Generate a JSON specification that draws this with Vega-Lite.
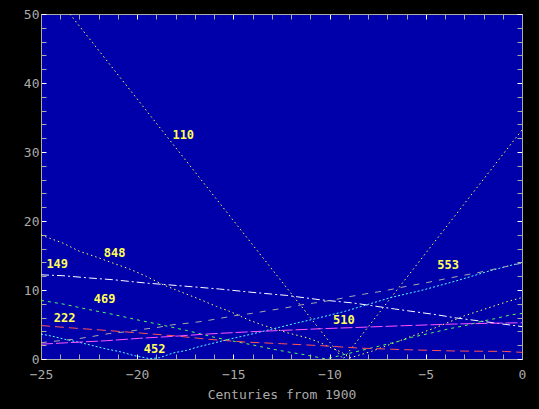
{
  "$schema": "https://vega.github.io/schema/vega-lite/v6.json",
  "width": 481,
  "height": 345,
  "autosize": {"type": "none"},
  "padding": {"left": 41, "top": 14, "right": 17, "bottom": 50},
  "background": "#000000",
  "config": {
    "view": {"fill": "#0000AA", "stroke": "#AAAAAA", "strokeWidth": 1},
    "axis": {"grid": false, "domainColor": "#AAAAAA", "labelColor": "#AAAAAA", "titleColor": "#AAAAAA", "labelFont": "DejaVu Sans Mono", "titleFont": "DejaVu Sans Mono", "labelFontSize": 13, "titleFontSize": 13, "titleFontWeight": "normal", "tickSize": -5, "labelFlush": false, "labelOverlap": false}
  },
  "datasets": {
    "lines": [
      {"s": "110", "x": -23.5, "y": 50}, {"s": "110", "x": -9.3, "y": 0}, {"s": "110", "x": 0, "y": 33.2},
      {"s": "848", "x": -25, "y": 18.0}, {"s": "848", "x": -24.55, "y": 17.5}, {"s": "848", "x": -23.86, "y": 16.8}, {"s": "848", "x": -22.99, "y": 15.6}, {"s": "848", "x": -22.12, "y": 14.78}, {"s": "848", "x": -21.26, "y": 13.9}, {"s": "848", "x": -20.4, "y": 13.04}, {"s": "848", "x": -19.52, "y": 11.97}, {"s": "848", "x": -18.66, "y": 10.77}, {"s": "848", "x": -17.8, "y": 9.8}, {"s": "848", "x": -16.92, "y": 8.84}, {"s": "848", "x": -15.88, "y": 7.62}, {"s": "848", "x": -15.19, "y": 6.9}, {"s": "848", "x": -14.24, "y": 5.7}, {"s": "848", "x": -13.54, "y": 4.97}, {"s": "848", "x": -12.16, "y": 3.77}, {"s": "848", "x": -11.12, "y": 3.04}, {"s": "848", "x": -10.43, "y": 2.3}, {"s": "848", "x": -9.9, "y": 1.6}, {"s": "848", "x": -9.39, "y": 1.0}, {"s": "848", "x": -8.95, "y": 0.15}, {"s": "848", "x": -7.83, "y": 1.1}, {"s": "848", "x": -5.75, "y": 3.28}, {"s": "848", "x": -4.54, "y": 4.49}, {"s": "848", "x": -2.98, "y": 6.28}, {"s": "848", "x": -1.77, "y": 7.39}, {"s": "848", "x": -0.73, "y": 8.35}, {"s": "848", "x": 0, "y": 8.9},
      {"s": "149", "x": -25, "y": 12.2}, {"s": "149", "x": -23.86, "y": 12.07}, {"s": "149", "x": -22.47, "y": 11.74}, {"s": "149", "x": -21.26, "y": 11.49}, {"s": "149", "x": -19.52, "y": 11.0}, {"s": "149", "x": -17.8, "y": 10.62}, {"s": "149", "x": -15.71, "y": 10.14}, {"s": "149", "x": -13.98, "y": 9.65}, {"s": "149", "x": -12.25, "y": 9.22}, {"s": "149", "x": -10.51, "y": 8.59}, {"s": "149", "x": -8.78, "y": 8.12}, {"s": "149", "x": -6.62, "y": 7.25}, {"s": "149", "x": -4.45, "y": 6.42}, {"s": "149", "x": -3.4, "y": 5.94}, {"s": "149", "x": -2.03, "y": 5.45}, {"s": "149", "x": 0, "y": 4.7},
      {"s": "469", "x": -25, "y": 8.5}, {"s": "469", "x": -23.86, "y": 7.97}, {"s": "469", "x": -22.47, "y": 7.14}, {"s": "469", "x": -21.43, "y": 6.57}, {"s": "469", "x": -19.87, "y": 5.6}, {"s": "469", "x": -19.0, "y": 5.1}, {"s": "469", "x": -17.44, "y": 4.14}, {"s": "469", "x": -15.97, "y": 3.13}, {"s": "469", "x": -14.06, "y": 2.07}, {"s": "469", "x": -13.0, "y": 1.45}, {"s": "469", "x": -12.33, "y": 1.1}, {"s": "469", "x": -11.3, "y": 0.62}, {"s": "469", "x": -10.43, "y": 0.14}, {"s": "469", "x": -10.2, "y": 0.0}, {"s": "469", "x": -7.48, "y": 1.83}, {"s": "469", "x": -6.44, "y": 2.55}, {"s": "469", "x": -5.75, "y": 3.13}, {"s": "469", "x": -4.71, "y": 3.77}, {"s": "469", "x": -3.84, "y": 4.35}, {"s": "469", "x": -2.98, "y": 4.83}, {"s": "469", "x": -2.11, "y": 5.45}, {"s": "469", "x": -1.42, "y": 5.84}, {"s": "469", "x": -0.55, "y": 6.42}, {"s": "469", "x": 0, "y": 6.6},
      {"s": "222", "x": -25, "y": 4.85}, {"s": "222", "x": -23.34, "y": 4.49}, {"s": "222", "x": -21.6, "y": 4.14}, {"s": "222", "x": -19.87, "y": 3.77}, {"s": "222", "x": -18.14, "y": 3.38}, {"s": "222", "x": -16.92, "y": 3.04}, {"s": "222", "x": -16.49, "y": 2.9}, {"s": "222", "x": -14.41, "y": 2.46}, {"s": "222", "x": -12.5, "y": 2.22}, {"s": "222", "x": -10.43, "y": 1.93}, {"s": "222", "x": -8.52, "y": 1.59}, {"s": "222", "x": -6.1, "y": 1.35}, {"s": "222", "x": -3.5, "y": 1.16}, {"s": "222", "x": -0.9, "y": 1.1}, {"s": "222", "x": 0, "y": 0.96},
      {"s": "452", "x": -25, "y": 3.62}, {"s": "452", "x": -24.38, "y": 3.28}, {"s": "452", "x": -23.68, "y": 2.8}, {"s": "452", "x": -22.99, "y": 2.4}, {"s": "452", "x": -22.3, "y": 1.93}, {"s": "452", "x": -21.6, "y": 1.45}, {"s": "452", "x": -20.9, "y": 1.06}, {"s": "452", "x": -20.2, "y": 0.52}, {"s": "452", "x": -19.52, "y": 0.14}, {"s": "452", "x": -19.35, "y": 0.04}, {"s": "452", "x": -18.83, "y": 0.19}, {"s": "452", "x": -18.14, "y": 0.87}, {"s": "452", "x": -17.44, "y": 1.25}, {"s": "452", "x": -16.84, "y": 1.75}, {"s": "452", "x": -15.1, "y": 2.95}, {"s": "452", "x": -14.06, "y": 3.6}, {"s": "452", "x": -12.68, "y": 4.55}, {"s": "452", "x": -11.81, "y": 5.15}, {"s": "452", "x": -10.95, "y": 5.7}, {"s": "452", "x": -10.08, "y": 6.3}, {"s": "452", "x": -9.21, "y": 6.9}, {"s": "452", "x": -6.79, "y": 8.93}, {"s": "452", "x": -5.23, "y": 9.94}, {"s": "452", "x": -3.5, "y": 11.25}, {"s": "452", "x": -1.77, "y": 12.7}, {"s": "452", "x": 0, "y": 14.0},
      {"s": "553", "x": -25, "y": 2.35}, {"s": "553", "x": -24.7, "y": 2.46}, {"s": "553", "x": -23.16, "y": 2.9}, {"s": "553", "x": -22.3, "y": 3.28}, {"s": "553", "x": -21.43, "y": 3.7}, {"s": "553", "x": -20.56, "y": 3.95}, {"s": "553", "x": -19.87, "y": 4.25}, {"s": "553", "x": -19.0, "y": 4.55}, {"s": "553", "x": -18.14, "y": 4.97}, {"s": "553", "x": -17.27, "y": 5.22}, {"s": "553", "x": -16.49, "y": 5.5}, {"s": "553", "x": -14.93, "y": 6.28}, {"s": "553", "x": -14.06, "y": 6.6}, {"s": "553", "x": -13.2, "y": 7.0}, {"s": "553", "x": -12.33, "y": 7.39}, {"s": "553", "x": -11.47, "y": 7.85}, {"s": "553", "x": -10.6, "y": 8.2}, {"s": "553", "x": -9.73, "y": 8.59}, {"s": "553", "x": -9.04, "y": 9.0}, {"s": "553", "x": -8.18, "y": 9.42}, {"s": "553", "x": -7.31, "y": 9.8}, {"s": "553", "x": -5.75, "y": 10.67}, {"s": "553", "x": -4.89, "y": 11.1}, {"s": "553", "x": -4.02, "y": 11.6}, {"s": "553", "x": -3.15, "y": 12.07}, {"s": "553", "x": -2.37, "y": 12.46}, {"s": "553", "x": -1.59, "y": 12.94}, {"s": "553", "x": 0, "y": 13.9},
      {"s": "510", "x": -25, "y": 2.15}, {"s": "510", "x": -23.34, "y": 2.4}, {"s": "510", "x": -21.6, "y": 2.65}, {"s": "510", "x": -19.87, "y": 3.0}, {"s": "510", "x": -18.14, "y": 3.28}, {"s": "510", "x": -16.49, "y": 3.6}, {"s": "510", "x": -14.41, "y": 3.91}, {"s": "510", "x": -12.5, "y": 4.14}, {"s": "510", "x": -10.43, "y": 4.39}, {"s": "510", "x": -8.52, "y": 4.58}, {"s": "510", "x": -6.1, "y": 4.83}, {"s": "510", "x": -3.5, "y": 5.07}, {"s": "510", "x": -0.9, "y": 5.22}, {"s": "510", "x": 0, "y": 5.25}
    ],
    "labels": [
      {"label": "110", "x": -18.17, "y": 32.43},
      {"label": "848", "x": -21.74, "y": 15.43},
      {"label": "149", "x": -24.72, "y": 13.7},
      {"label": "469", "x": -22.26, "y": 8.64},
      {"label": "222", "x": -24.34, "y": 5.88},
      {"label": "452", "x": -19.66, "y": 1.42},
      {"label": "510", "x": -9.82, "y": 5.62},
      {"label": "553", "x": -4.4, "y": 13.6}
    ]
  },
  "layer": [
    {
      "data": {"name": "lines"},
      "mark": {"type": "line", "strokeWidth": 1, "clip": true},
      "encoding": {
        "x": {"field": "x", "type": "quantitative", "scale": {"domain": [-25, 0], "nice": false, "zero": false},
          "axis": {"orient": "bottom", "title": "Centuries from 1900", "values": [-25,-24,-23,-22,-21,-20,-19,-18,-17,-16,-15,-14,-13,-12,-11,-10,-9,-8,-7,-6,-5,-4,-3,-2,-1,0],
            "labelExpr": "datum.value % 5 === 0 ? datum.label : ''", "labelPadding": 14, "titlePadding": 7,
            "tickColor": {"condition": {"test": "datum.value % 5 === 0", "value": "#FFFFFF"}, "value": "#AAAAAA"}}},
        "y": {"field": "y", "type": "quantitative", "scale": {"domain": [0, 50], "nice": false},
          "axis": {"orient": "left", "title": null, "values": [0,2,4,6,8,10,12,14,16,18,20,22,24,26,28,30,32,34,36,38,40,42,44,46,48,50],
            "labelExpr": "datum.value % 10 === 0 ? datum.label : ''", "labelPadding": 7,
            "tickColor": {"condition": {"test": "datum.value % 10 === 0", "value": "#FFFFFF"}, "value": "#AAAAAA"}}},
        "color": {"field": "s", "type": "nominal", "legend": null,
          "scale": {"domain": ["110", "848", "149", "469", "222", "452", "553", "510"], "range": ["#FFFF55", "#FFFF55", "#FFFFFF", "#55FF55", "#FF5555", "#55FFFF", "#AAAAAA", "#FF55FF"]}},
        "strokeDash": {"field": "s", "type": "nominal", "legend": null,
          "scale": {"domain": ["110", "848", "149", "469", "222", "452", "553", "510"], "range": [[1.5, 3], [1.5, 3], [8, 3, 2, 3], [3, 4], [9, 5], [2, 2], [6, 7], [12, 3]]}}
      }
    },
    {
      "data": {"name": "labels"},
      "mark": {"type": "text", "align": "left", "baseline": "middle", "font": "DejaVu Sans Mono", "fontWeight": "bold", "fontSize": 12, "color": "#FFFF55"},
      "encoding": {
        "x": {"field": "x", "type": "quantitative",
          "axis": {"orient": "top", "title": null, "labels": false, "values": [-25,-24,-23,-22,-21,-20,-19,-18,-17,-16,-15,-14,-13,-12,-11,-10,-9,-8,-7,-6,-5,-4,-3,-2,-1,0],
            "tickColor": {"condition": {"test": "datum.value % 5 === 0", "value": "#FFFFFF"}, "value": "#AAAAAA"}}},
        "y": {"field": "y", "type": "quantitative",
          "axis": {"orient": "right", "title": null, "labels": false, "values": [0,2,4,6,8,10,12,14,16,18,20,22,24,26,28,30,32,34,36,38,40,42,44,46,48,50],
            "tickColor": {"condition": {"test": "datum.value % 10 === 0", "value": "#FFFFFF"}, "value": "#AAAAAA"}}},
        "text": {"field": "label", "type": "nominal"}
      }
    }
  ],
  "resolve": {"axis": {"x": "independent", "y": "independent"}}
}
